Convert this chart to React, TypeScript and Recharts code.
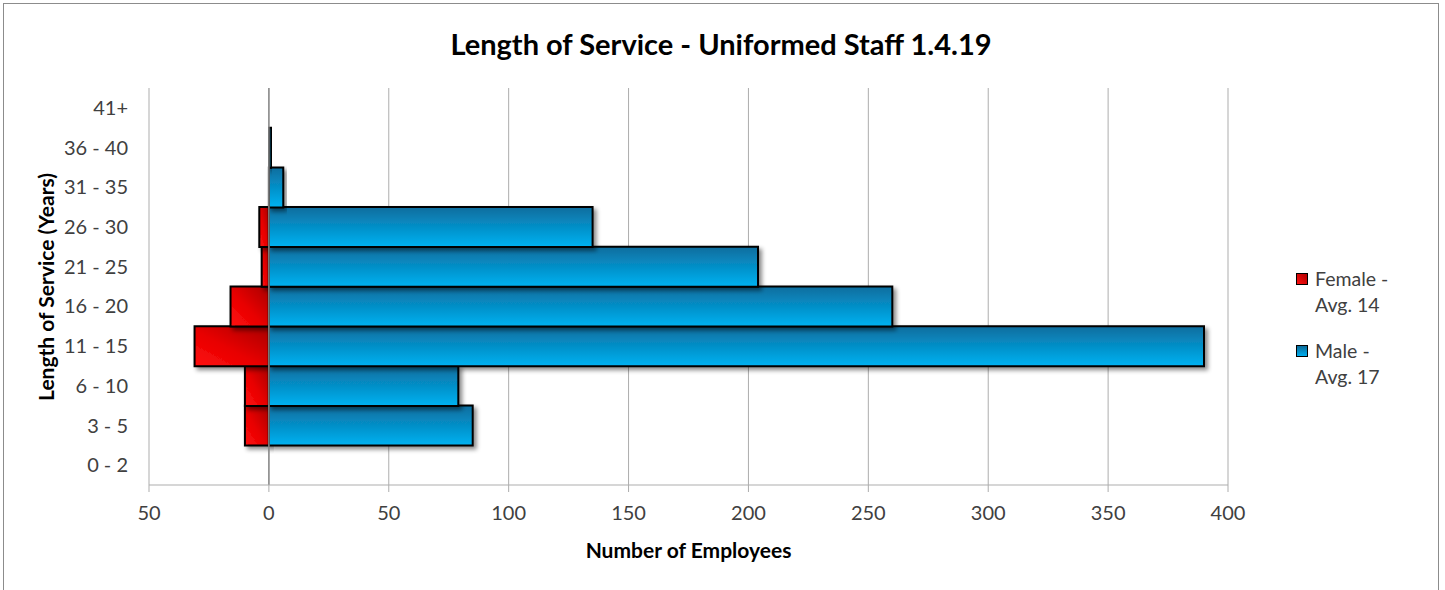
import React from 'react';
import { BarChart, Bar, XAxis, YAxis, CartesianGrid, ReferenceLine, Legend, Label } from 'recharts';

const categories = ['0 - 2', '3 - 5', '6 - 10', '11 - 15', '16 - 20', '21 - 25', '26 - 30', '31 - 35', '36 - 40', '41+'];
const femaleCounts = [0, 10, 10, 31, 16, 3, 4, 0, 0, 0];
const maleCounts = [0, 85, 79, 390, 260, 204, 135, 6, 1, 0];
const xTicks = [-50, 0, 50, 100, 150, 200, 250, 300, 350, 400];
const femaleLabel = ['Female -', 'Avg. 14'];
const maleLabel = ['Male -', 'Avg. 17'];
const titleText = 'Length of Service - Uniformed Staff 1.4.19';
const xTitle = 'Number of Employees';
const yTitle = 'Length of Service (Years)';

const data = categories.map((c, i) => ({ category: c, female: -femaleCounts[i], male: maleCounts[i] }));

const FONT = 'Lato, "Open Sans", sans-serif';
const TEXT = '#404040';
const GRID = '#ADADAD';

const legendItems = [
  { lines: femaleLabel, bg: 'linear-gradient(45deg, #ff1010, #b00000)' },
  { lines: maleLabel, bg: 'linear-gradient(180deg, #0a6a98, #00aeef)' },
];

const LegendContent = () => (
  <div style={{ fontFamily: FONT, fontSize: 19.5, color: TEXT, lineHeight: '26px' }}>
    {legendItems.map((it, i) => (
      <div key={i} style={{ position: 'relative', paddingLeft: 19, marginBottom: i === 0 ? 20 : 0 }}>
        <span
          style={{
            position: 'absolute',
            left: 0,
            top: 7,
            width: 10,
            height: 10,
            border: '1.5px solid #000',
            background: it.bg,
          }}
        />
        <div>{it.lines[0]}</div>
        <div>{it.lines[1]}</div>
      </div>
    ))}
  </div>
);

export default function App() {
  return (
    <div
      style={{
        position: 'absolute',
        left: 3,
        top: 3,
        width: 1436,
        height: 588,
        border: '1px solid #8c8c8c',
        boxSizing: 'border-box',
        background: '#fff',
      }}
    >
      <div
        style={{
          position: 'absolute',
          left: 0,
          right: 0,
          top: 22,
          textAlign: 'center',
          fontFamily: FONT,
          fontWeight: 700,
          fontSize: 29,
          color: '#000',
          lineHeight: '36px',
        }}
      >
        {titleText}
      </div>
      <BarChart
        width={1434}
        height={586}
        data={data}
        layout="vertical"
        stackOffset="sign"
        barCategoryGap={0}
        margin={{ top: 84, right: 210, bottom: 43, left: 25 }}
      >
        <defs>
          <linearGradient id="maleGrad" x1="0" y1="0" x2="0" y2="1">
            <stop offset="0%" stopColor="#0b6d9e" />
            <stop offset="100%" stopColor="#00b2f2" />
          </linearGradient>
          <linearGradient id="femaleGrad" x1="0" y1="1" x2="1" y2="0">
            <stop offset="0%" stopColor="#ff1010" />
            <stop offset="45%" stopColor="#e80000" />
            <stop offset="100%" stopColor="#a80000" />
          </linearGradient>
          <filter id="barShadow" x="-20%" y="-20%" width="140%" height="160%">
            <feDropShadow dx="3" dy="3" stdDeviation="2" floodColor="#000" floodOpacity="0.45" />
          </filter>
        </defs>
        <CartesianGrid horizontal={false} stroke={GRID} />
        <XAxis
          type="number"
          domain={[-50, 400]}
          ticks={xTicks}
          interval={0}
          allowDataOverflow
          tickFormatter={(v) => String(Math.abs(v))}
          axisLine={{ stroke: GRID }}
          tickLine={{ stroke: GRID }}
          tickSize={7}
          tickMargin={14}
          height={62}
          tick={{ fontFamily: FONT, fontSize: 20, fill: TEXT }}
        >
          <Label
            content={(props: any) => {
              const vb = props.viewBox || {};
              return (
                <text
                  x={vb.x + vb.width / 2}
                  y={545}
                  textAnchor="middle"
                  dominantBaseline="central"
                  fontFamily={FONT}
                  fontWeight={700}
                  fontSize={21}
                  fill="#000"
                >
                  {xTitle}
                </text>
              );
            }}
          />
        </XAxis>
        <YAxis
          type="category"
          dataKey="category"
          reversed
          width={120}
          axisLine={false}
          tickLine={false}
          tickSize={0}
          tickMargin={21}
          interval={0}
          tick={{ fontFamily: FONT, fontSize: 20, fill: TEXT }}
        >
          <Label
            content={() => (
              <text
                x={41}
                y={283}
                transform="rotate(-90 41 283)"
                textAnchor="middle"
                dominantBaseline="central"
                fontFamily={FONT}
                fontWeight={700}
                fontSize={21}
                fill="#000"
              >
                {yTitle}
              </text>
            )}
          />
        </YAxis>
        <ReferenceLine x={0} stroke="#8c8c8c" strokeWidth={1.5} />
        <Legend
          layout="vertical"
          align="center"
          verticalAlign="middle"
          content={<LegendContent />}
          wrapperStyle={{ left: 1292, top: 262, width: 130 }}
        />
        <Bar
          dataKey="female"
          stackId="s"
          fill="url(#femaleGrad)"
          stroke="#000"
          strokeWidth={2}
          filter="url(#barShadow)"
          isAnimationActive={false}
        />
        <Bar
          dataKey="male"
          stackId="s"
          fill="url(#maleGrad)"
          stroke="#000"
          strokeWidth={2}
          filter="url(#barShadow)"
          isAnimationActive={false}
        />
      </BarChart>
    </div>
  );
}
